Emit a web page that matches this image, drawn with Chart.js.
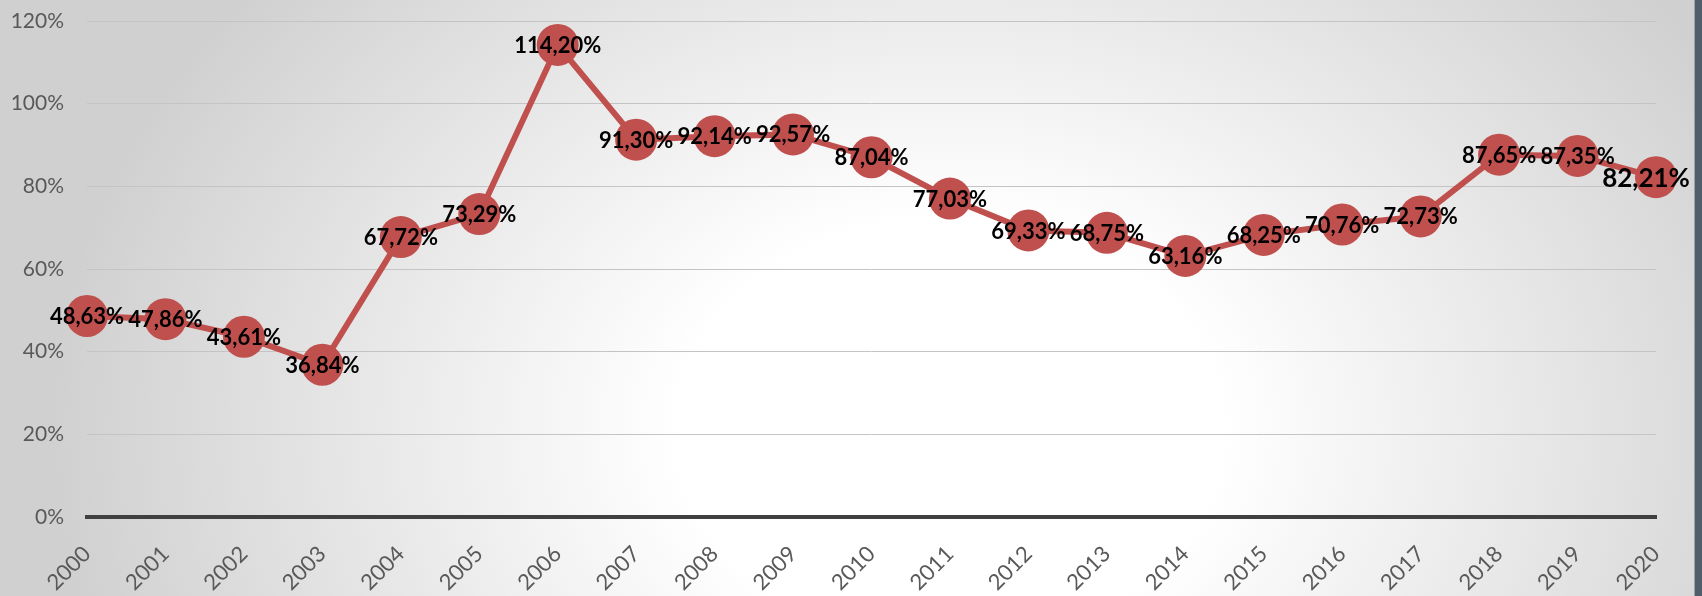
<!DOCTYPE html>
<html>
<head>
<meta charset="utf-8">
<script src="https://cdn.jsdelivr.net/npm/chart.js@4/dist/chart.umd.min.js"></script>
<style>
  html, body { margin: 0; padding: 0; }
  #wrap {
    position: relative;
    width: 1702px;
    height: 596px;
    background: radial-gradient(ellipse 900px 700px at 950px 430px, #ffffff 0%, #ffffff 30%, #d0d0d0 100%);
    overflow: hidden;
  }
  #edge {
    position: absolute;
    right: 0; top: 0;
    width: 7px; height: 596px;
    background: #4f5e6a;
    border-left: 1px solid #9aa4ab;
  }
</style>
</head>
<body>
<div id="wrap">
  <canvas id="chart" width="1702" height="596"></canvas>
  <div id="edge"></div>
</div>
<script>
// =======================
// DATA
// =======================
const years = ["2000", "2001", "2002", "2003", "2004", "2005", "2006", "2007", "2008", "2009", "2010",
  "2011", "2012", "2013", "2014", "2015", "2016", "2017", "2018", "2019", "2020"];
const rates = [48.63, 47.86, 43.61, 36.84, 67.72, 73.29, 114.20, 91.30, 92.14, 92.57, 87.04,
  77.03, 69.33, 68.75, 63.16, 68.25, 70.76, 72.73, 87.65, 87.35, 82.21];
const yTicks = [0, 20, 40, 60, 80, 100, 120];

const red = "#C0504D";

// =======================
// LABELS SUR LES POINTS
// =======================
const pointLabels = {
  id: "pointLabels",
  afterDatasetsDraw(chart) {
    const ctx = chart.ctx;
    const meta = chart.getDatasetMeta(0);
    ctx.save();
    ctx.fillStyle = "#000";
    ctx.textAlign = "center";
    ctx.textBaseline = "middle";
    meta.data.forEach((pt, i) => {
      const txt = rates[i].toFixed(2).replace(".", ",") + "%";
      const last = i === rates.length - 1;
      ctx.font = "bold " + (last ? 26 : 22) + "px Lato";
      ctx.fillText(txt, pt.x - (last ? 10 : 0), pt.y + 1);
    });
    ctx.restore();
  }
};

// =======================
// CHART
// =======================
new Chart(document.getElementById("chart"), {
  type: "line",
  data: {
    labels: years,
    datasets: [{
      data: rates,
      borderColor: red,
      borderWidth: 6,
      backgroundColor: red,
      pointBackgroundColor: red,
      pointBorderWidth: 0,
      pointRadius: 21,
      tension: 0,
      clip: false
    }]
  },
  options: {
    responsive: false,
    animation: false,
    layout: { padding: { top: 19, right: 46, left: 0, bottom: 0 } },
    plugins: {
      legend: { display: false },
      tooltip: { enabled: false }
    },
    scales: {
      x: {
        offset: false,
        grid: { display: false },
        border: { color: "#404040", width: 4 },
        ticks: {
          color: "#595959",
          font: { family: "Lato", size: 22 },
          minRotation: 45,
          maxRotation: 45,
          padding: 16,
          autoSkip: false
        },
        afterFit(scale) { scale.height = 79; }
      },
      y: {
        min: 0,
        max: 120,
        afterBuildTicks(scale) { scale.ticks = yTicks.map(v => ({ value: v })); },
        grid: { color: "#c4c4c4", lineWidth: 1, drawTicks: false },
        border: { display: false },
        ticks: {
          color: "#595959",
          font: { family: "Lato", size: 21 },
          padding: 23,
          callback: v => v + "%"
        },
        afterFit(scale) {
          scale.width = 87;
          scale.paddingTop = 0;
          scale.paddingBottom = 0;
        }
      }
    }
  },
  plugins: [pointLabels]
});
</script>
</body>
</html>
